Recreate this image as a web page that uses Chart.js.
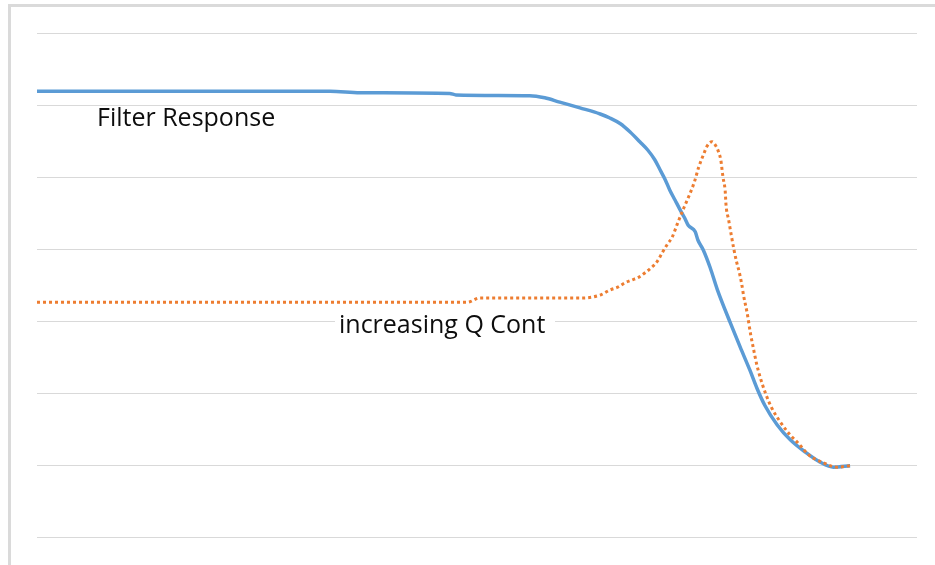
<!DOCTYPE html>
<html>
<head>
<meta charset="utf-8">
<script src="https://cdn.jsdelivr.net/npm/chart.js@4/dist/chart.umd.min.js"></script>
<style>
  html, body { margin: 0; padding: 0; background: #fff; }
  #wrap { position: relative; width: 935px; height: 565px; overflow: hidden; }
  #frame { position: absolute; left: 8px; top: 4px; right: -10px; bottom: -10px;
           border-left: 3px solid #dadada; border-top: 3px solid #dadada; pointer-events: none; }
  .lbl { position: absolute; font-family: "Open Sans", sans-serif; font-size: 25px;
         line-height: 25px; color: #0d0d0d; white-space: nowrap; }
  #lblResp { left: 97px; top: 104px; }
  #lblQ { left: 335px; top: 309px; background: #fff; padding: 2px 10px 4px 4px; }
</style>
</head>
<body>
<div id="wrap">
  <canvas id="chart" width="935" height="565"></canvas>
  <div id="frame"></div>
  <div class="lbl" id="lblResp">Filter Response</div>
  <div class="lbl" id="lblQ">increasing Q Cont</div>
</div>
<script>
// Filter Response (blue, solid)
const respX = [0, 33.3, 36.7, 46.9, 47.6, 56.0, 57.7, 59.4, 61.7, 64.0, 65.1, 66.3, 67.4, 68.5,
  69.4, 70.2, 70.8, 71.4, 71.9, 72.5, 73.1, 73.6, 74.0, 74.8, 75.1, 75.7, 76.5, 77.3, 78.8, 79.9,
  81.0, 81.8, 82.7, 84.1, 85.6, 87.3, 89.0, 90.5, 92.4];
const respY = [-8.1, -8.1, -8.3, -8.4, -8.6, -8.7, -9.0, -9.6, -10.4, -11.25, -11.8, -12.6, -13.75, -15.1,
  -16.25, -17.6, -19.0, -20.4, -21.8, -23.2, -24.6, -25.7, -26.7, -27.6, -28.75, -30.1, -32.6, -35.6, -40.3, -43.6,
  -46.8, -49.3, -51.7, -54.4, -56.5, -58.2, -59.6, -60.3, -60.1];

// increasing Q Cont (orange, dotted)
const qX = [0, 48.9, 50.3, 62.0, 64.0, 65.1, 66.0, 66.8, 67.6, 68.4, 69.1, 69.8, 70.5, 71.1, 71.6,
  72.2, 72.8, 73.5, 74.1, 74.7, 75.2, 75.8, 76.1, 76.7, 77.2, 77.5, 77.7, 77.95, 78.2, 78.3, 78.6,
  78.9, 79.2, 79.5, 79.8, 80.1, 80.3, 80.7, 81.1, 81.4, 81.8, 82.2, 82.8, 83.5, 84.4, 85.5, 86.6,
  87.7, 89.2, 90.9, 92.4];
const qY = [-37.4, -37.4, -36.8, -36.8, -36.4, -35.7, -35.3, -34.7, -34.3, -33.9, -33.3, -32.6, -31.7, -30.4, -29.4,
  -28.3, -26.4, -24.3, -22.6, -20.7, -18.6, -16.7, -15.8, -15.1, -15.8, -16.7, -17.6, -20.0, -21.9, -23.9, -26.0,
  -28.1, -30.1, -31.8, -33.2, -35.0, -36.5, -38.9, -41.9, -43.75, -46.1, -47.9, -50.1, -52.1, -53.9, -55.7, -57.1,
  -58.6, -59.6, -60.3, -60.1];

const yMin = -70, yMax = 0, yStep = 10;

const toPoints = (xs, ys) => xs.map((x, i) => ({ x: x, y: ys[i] }));

new Chart(document.getElementById("chart").getContext("2d"), {
    type: "line",
    data: {
        datasets: [
            {
                label: "increasing Q Cont",
                data: toPoints(qX, qY),
                borderColor: "#ED7D31",
                borderWidth: 3,
                borderDash: [3, 3],
                borderCapStyle: "butt",
                pointRadius: 0,
                cubicInterpolationMode: "monotone",
                order: 1
            },
            {
                label: "Filter Response",
                data: toPoints(respX, respY),
                borderColor: "#5B9BD5",
                borderWidth: 3.5,
                pointRadius: 0,
                cubicInterpolationMode: "monotone",
                order: 2
            }
        ]
    },
    options: {
        responsive: false,
        animation: false,
        layout: { padding: { left: 37, right: 18, top: 33, bottom: 28 } },
        plugins: { legend: { display: false }, tooltip: { enabled: false } },
        scales: {
            x: { type: "linear", min: 0, max: 100, display: false },
            y: {
                min: yMin, max: yMax,
                ticks: { display: false, stepSize: yStep },
                grid: { color: "#d9d9d9", lineWidth: 1, drawTicks: false },
                border: { display: false }
            }
        }
    }
});
</script>
</body>
</html>
